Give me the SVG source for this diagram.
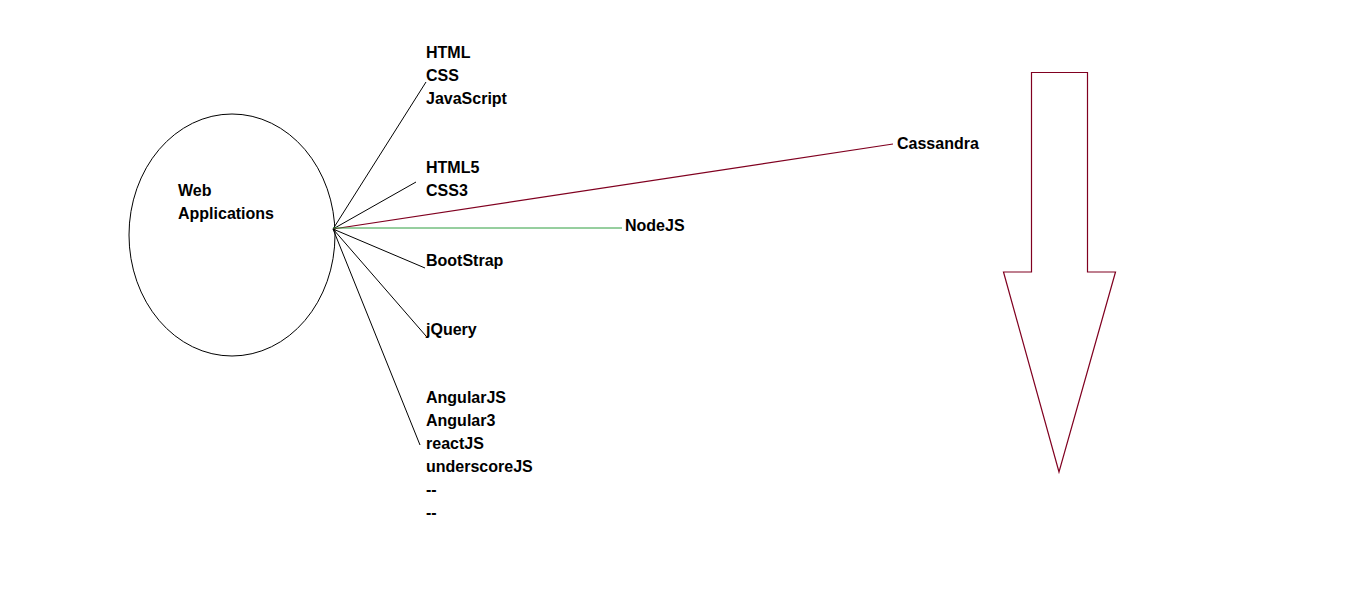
<svg xmlns="http://www.w3.org/2000/svg" width="1360" height="597" viewBox="0 0 1360 597">
<style>
text{font-family:"Liberation Sans",Arial,sans-serif;font-weight:bold;font-size:16px;fill:#000}
.blk{stroke:#000;stroke-width:1;fill:none}
.red{stroke:#800020;stroke-width:1.2;fill:none}
.grn{stroke:#2f9e3f;stroke-width:1;fill:none}
</style>
<rect width="1360" height="597" fill="#fff"/>
<g id="web-applications">
<ellipse cx="232" cy="235" rx="103" ry="121" class="blk"/>
<text x="178" y="196">Web</text>
<text x="178" y="219">Applications</text>
</g>
<g id="connectors">
<line x1="333" y1="229" x2="426" y2="82" class="blk"/>
<line x1="333" y1="229" x2="416" y2="182" class="blk"/>
<line x1="333" y1="229" x2="893" y2="144" class="red"/>
<line x1="333" y1="228" x2="622" y2="228" class="grn"/>
<line x1="333" y1="229" x2="425" y2="268" class="blk"/>
<line x1="333" y1="229" x2="426" y2="336" class="blk"/>
<line x1="333" y1="229" x2="420" y2="445" class="blk"/>
</g>
<g id="html-css-js">
<text x="426" y="58">HTML</text>
<text x="426" y="81">CSS</text>
<text x="426" y="104">JavaScript</text>
</g>
<g id="html5-css3">
<text x="426" y="173">HTML5</text>
<text x="426" y="196">CSS3</text>
</g>
<g id="cassandra"><text x="897" y="149">Cassandra</text></g>
<g id="nodejs"><text x="625" y="231">NodeJS</text></g>
<g id="bootstrap"><text x="426" y="266">BootStrap</text></g>
<g id="jquery"><text x="426" y="335">jQuery</text></g>
<g id="frameworks">
<text x="426" y="403">AngularJS</text>
<text x="426" y="426">Angular3</text>
<text x="426" y="449">reactJS</text>
<text x="426" y="472">underscoreJS</text>
<text x="426" y="495">--</text>
<text x="426" y="518">--</text>
</g>
<g id="down-arrow">
<polygon points="1031.5,72.5 1087.5,72.5 1087.5,272 1115.5,272 1059,472 1003.5,272 1031.5,272" class="red"/>
</g>
</svg>
